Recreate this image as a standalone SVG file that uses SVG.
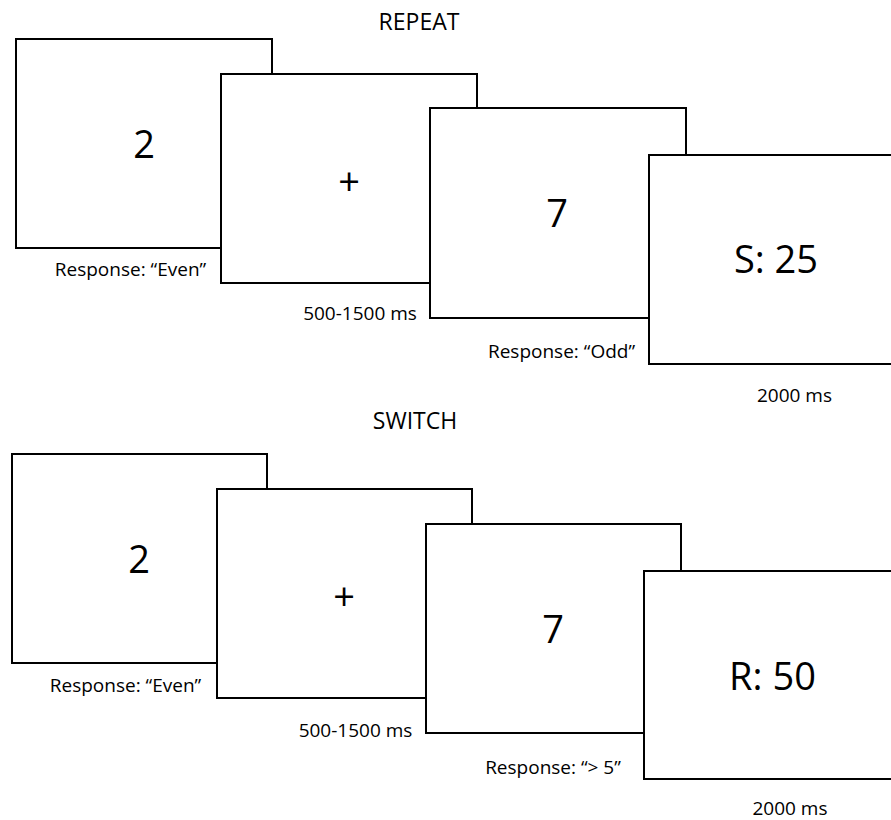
<svg xmlns="http://www.w3.org/2000/svg" width="891" height="820" viewBox="0 0 891 820">
<style>
.box{fill:#fff;stroke:#000;stroke-width:2}
text{font-family:"Open Sans","Noto Sans","Liberation Sans",sans-serif;fill:#000;text-anchor:middle}
.t{font-size:23px}
.l{font-size:19px}
.b{font-size:38px}
</style>
<rect width="891" height="820" fill="#fff"/>
<g id="repeat">
<text class="t" x="419" y="30">REPEAT</text>
<g id="r1"><rect class="box" x="16" y="39" width="256" height="209"/><text class="b" x="144" y="158">2</text><text class="l" x="130.5" y="276">Response: “Even”</text></g>
<g id="r2"><rect class="box" x="221" y="74" width="256" height="209"/><text class="b" x="349" y="195">+</text><text class="l" x="360" y="320">500-1500 ms</text></g>
<g id="r3"><rect class="box" x="430" y="108" width="256" height="210"/><text class="b" x="557" y="227">7</text><text class="l" x="561.5" y="358">Response: “Odd”</text></g>
<g id="r4"><rect class="box" x="649" y="155" width="256" height="209"/><text class="b" x="776" y="273">S: 25</text><text class="l" x="794.5" y="402">2000 ms</text></g>
</g>
<g id="switch">
<text class="t" x="415" y="429">SWITCH</text>
<g id="s1"><rect class="box" x="12" y="454" width="255" height="209"/><text class="b" x="139" y="573">2</text><text class="l" x="125.5" y="692">Response: “Even”</text></g>
<g id="s2"><rect class="box" x="217" y="489" width="255" height="209"/><text class="b" x="344" y="610">+</text><text class="l" x="355.5" y="737">500-1500 ms</text></g>
<g id="s3"><rect class="box" x="426" y="524" width="255" height="209"/><text class="b" x="553" y="643">7</text><text class="l" x="553" y="774">Response: “&gt; 5”</text></g>
<g id="s4"><rect class="box" x="644" y="571" width="256" height="208"/><text class="b" x="772.5" y="690">R: 50</text><text class="l" x="790" y="815">2000 ms</text></g>
</g>
<g id="connectors"/>
</svg>
